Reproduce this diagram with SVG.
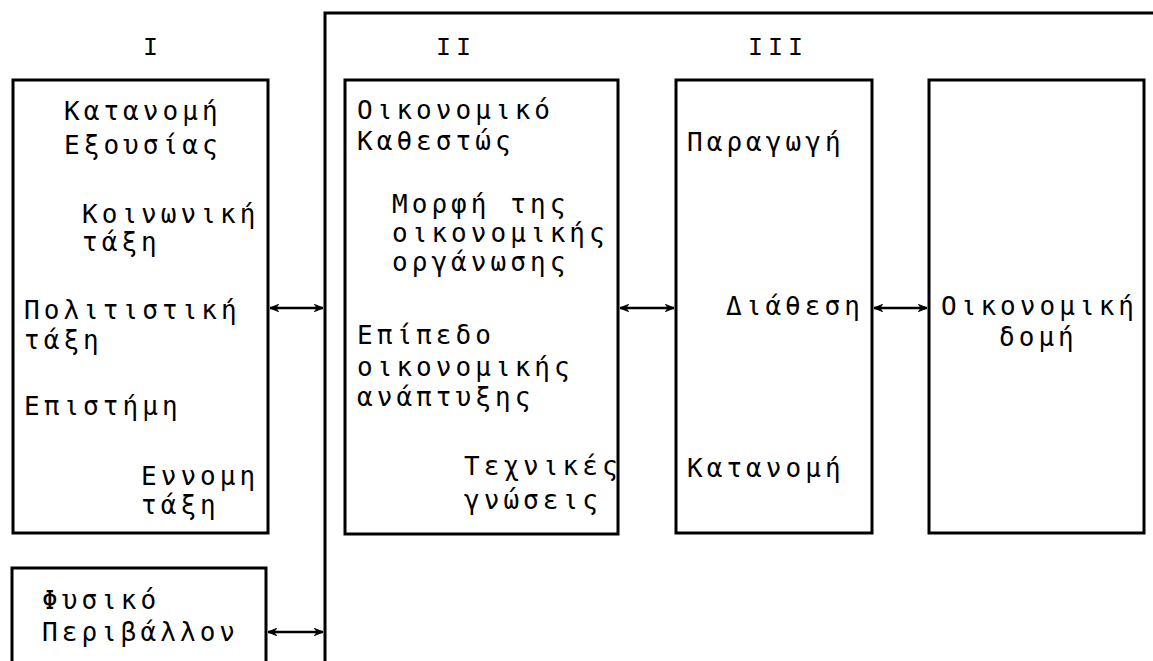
<svg xmlns="http://www.w3.org/2000/svg" width="1153" height="661" viewBox="0 0 1153 661">
<style>
.box{fill:none;stroke:#000;stroke-width:3}
.t{font-family:"DejaVu Sans Mono","Liberation Mono",monospace;font-size:26px;letter-spacing:4.05px;fill:#000}
.r{font-family:"Liberation Mono","DejaVu Sans Mono",monospace;font-size:25px;letter-spacing:5px;fill:#000}
.c{fill:none;stroke:#000;stroke-width:2.4}
</style>
<defs>
<marker id="ah" viewBox="0 0 10 10" refX="9.5" refY="5" markerWidth="9" markerHeight="9" markerUnits="userSpaceOnUse" orient="auto-start-reverse">
<path d="M0,1 L10,5 L0,9 L3,5 Z" fill="#000" stroke="#000" stroke-width="1"/>
</marker>
</defs>
<rect width="1153" height="661" fill="#fff"/>
<g id="frame">
<path class="box" d="M325,661 V13 H1153"/>
</g>
<g id="labels">
<text class="r" x="143" y="55">I</text>
<text class="r" x="436" y="55">II</text>
<text class="r" x="748" y="55">III</text>
</g>
<g id="box1">
<rect class="box" x="13" y="80" width="255" height="453"/>
<text class="t" x="64" y="120">Κατανομή</text>
<text class="t" x="64" y="154">Εξουσίας</text>
<text class="t" x="82" y="223">Κοινωνική</text>
<text class="t" x="82" y="251">τάξη</text>
<text class="t" x="24" y="319">Πολιτιστική</text>
<text class="t" x="24" y="349">τάξη</text>
<text class="t" x="24" y="415">Επιστήμη</text>
<text class="t" x="141" y="485">Εννομη</text>
<text class="t" x="141" y="514">τάξη</text>
</g>
<g id="box-physical">
<path class="box" d="M12,661 V568 H266 V661"/>
<text class="t" x="42" y="609">Φυσικό</text>
<text class="t" x="42" y="641">Περιβάλλον</text>
</g>
<g id="box2">
<rect class="box" x="345" y="80" width="273" height="454"/>
<text class="t" x="357" y="119">Οικονομικό</text>
<text class="t" x="357" y="150">Καθεστώς</text>
<text class="t" x="392" y="213">Μορφή της</text>
<text class="t" x="392" y="242">οικονομικής</text>
<text class="t" x="392" y="271">οργάνωσης</text>
<text class="t" x="357" y="344">Επίπεδο</text>
<text class="t" x="357" y="376">οικονομικής</text>
<text class="t" x="357" y="406">ανάπτυξης</text>
<text class="t" x="464" y="475">Τεχνικές</text>
<text class="t" x="464" y="509">γνώσεις</text>
</g>
<g id="box3">
<rect class="box" x="676" y="80" width="196" height="453"/>
<text class="t" x="687" y="151">Παραγωγή</text>
<text class="t" x="726" y="315">Διάθεση</text>
<text class="t" x="687" y="477">Κατανομή</text>
</g>
<g id="box4">
<rect class="box" x="929" y="80" width="215" height="453"/>
<text class="t" x="941" y="315">Οικονομική</text>
<text class="t" x="999" y="346">δομή</text>
</g>
<g id="connectors">
<line class="c" x1="270" y1="308" x2="323" y2="308" marker-start="url(#ah)" marker-end="url(#ah)"/>
<line class="c" x1="268" y1="632" x2="323" y2="632" marker-start="url(#ah)" marker-end="url(#ah)"/>
<line class="c" x1="620" y1="308" x2="674" y2="308" marker-start="url(#ah)" marker-end="url(#ah)"/>
<line class="c" x1="874" y1="308" x2="927" y2="308" marker-start="url(#ah)" marker-end="url(#ah)"/>
</g>
</svg>
